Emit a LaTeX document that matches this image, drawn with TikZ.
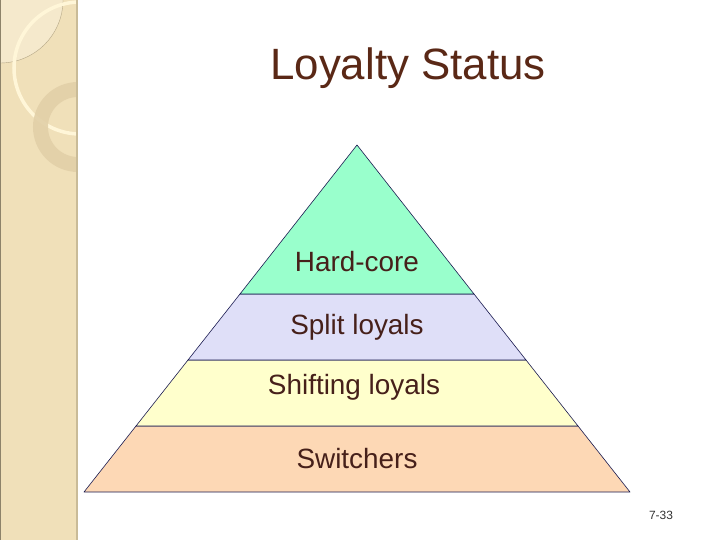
\documentclass[tikz,border=0pt]{standalone}
\usepackage{fontspec}
\setmainfont{Liberation Sans}
\usepackage{xcolor}
\usepackage{tikz}
\usetikzlibrary{positioning,calc}

\definecolor{stripbeige}{HTML}{F0E0B9}
\definecolor{stripedge}{HTML}{C9BB98}
\definecolor{ringtan}{HTML}{E2D0A8}
\definecolor{ringcream}{HTML}{FFF6D8}
\definecolor{paletan}{HTML}{F5E9CC}
\definecolor{titlebrown}{HTML}{5A2816}
\definecolor{textbrown}{HTML}{46201A}
\definecolor{hardgreen}{HTML}{99FFCC}
\definecolor{splitlav}{HTML}{DFDFF8}
\definecolor{shiftyellow}{HTML}{FFFFCC}
\definecolor{switchpeach}{HTML}{FDD8B5}
\definecolor{edgenavy}{HTML}{1A1A50}

\begin{document}
\begin{tikzpicture}[x=1bp,y=-1bp,
		layer/.style={draw=edgenavy, line width=0.6bp, line join=round},
		layertext/.style={text=textbrown, font=\fontsize{28}{32}\selectfont}]
		\useasboundingbox (0,0) rectangle (720,540);
		\fill[white] (0,0) rectangle (720,540);
		% side strip
		\begin{scope}
			\clip (0,0) rectangle (77,540);
			\fill[stripbeige] (0,0) rectangle (77,540);
			\fill[paletan] (0,0) circle (63);
			\draw[ringtan!80!black, line width=0.4bp] (0,0) circle (63);
			\draw[ringcream, line width=3.5bp] (80,68) circle (66);
			\draw[ringtan, line width=15bp, opacity=0.9] (78,127) circle (37.5);
		\end{scope}
		\draw[stripedge, line width=2bp] (77,0) -- (77,540);
		\draw[stripedge!70!black, line width=1bp] (0.5,0) -- (0.5,540);
		% title
		\node[text=titlebrown, font=\fontsize{44}{50}\selectfont] (title) at (408,68) {Loyalty Status};
		% pyramid corners
		\coordinate (apex) at (357,145);
		\coordinate (l1) at (240,294); \coordinate (r1) at (474,294);
		\coordinate (l2) at (188,360); \coordinate (r2) at (526,360);
		\coordinate (l3) at (136,426); \coordinate (r3) at (578,426);
		\coordinate (l4) at (84,492);  \coordinate (r4) at (630,492);
		% layers
		\filldraw[layer, fill=switchpeach] (l3) -- (r3) -- (r4) -- (l4) -- cycle;
		\filldraw[layer, fill=shiftyellow] (l2) -- (r2) -- (r3) -- (l3) -- cycle;
		\filldraw[layer, fill=splitlav] (l1) -- (r1) -- (r2) -- (l2) -- cycle;
		\filldraw[layer, fill=hardgreen] (apex) -- (r1) -- (l1) -- cycle;
		% labels
		\node[layertext] (hard) at (357,262) {Hard-core};
		\node[layertext] (split) at (357,327) {Split loyals};
		\node[layertext] (shift) at (354,387) {Shifting loyals};
		\node[layertext] (switch) at (357,459) {Switchers};
		\node[text=black!80, font=\fontsize{12}{14}\selectfont] (page) at (661,515) {7-33};
	\end{tikzpicture}
\end{document}
